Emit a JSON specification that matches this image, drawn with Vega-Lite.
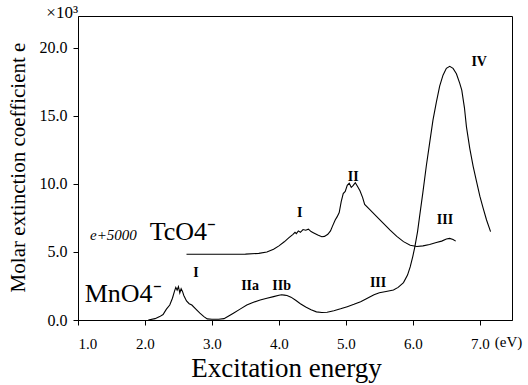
{
  "$schema": "https://vega.github.io/schema/vega-lite/v6.json",
  "width": 434,
  "height": 304,
  "autosize": "none",
  "padding": {"left": 78, "top": 16, "right": 16, "bottom": 65},
  "background": "white",
  "config": {
    "view": {"stroke": "black", "strokeWidth": 1},
    "font": "Liberation Serif",
    "text": {"font": "Liberation Serif"},
    "axis": {"grid": false, "domainColor": "black", "tickColor": "black", "labelColor": "black", "titleColor": "black", "labelFont": "Liberation Serif", "titleFont": "Liberation Serif", "titleFontWeight": "normal", "tickSize": 5}
  },
  "datasets": {
    "spectra": [
      {"s": "Mn", "x": 2.05, "y": 0}, {"s": "Mn", "x": 2.15, "y": 0.1}, {"s": "Mn", "x": 2.22, "y": 0.25}, {"s": "Mn", "x": 2.27, "y": 0.4},
      {"s": "Mn", "x": 2.32, "y": 0.8}, {"s": "Mn", "x": 2.37, "y": 1.1}, {"s": "Mn", "x": 2.41, "y": 1.6}, {"s": "Mn", "x": 2.44, "y": 2.1},
      {"s": "Mn", "x": 2.46, "y": 2.4}, {"s": "Mn", "x": 2.48, "y": 2.2}, {"s": "Mn", "x": 2.5, "y": 2.45}, {"s": "Mn", "x": 2.52, "y": 2.0},
      {"s": "Mn", "x": 2.54, "y": 2.3}, {"s": "Mn", "x": 2.56, "y": 2.1}, {"s": "Mn", "x": 2.58, "y": 1.8}, {"s": "Mn", "x": 2.6, "y": 1.6},
      {"s": "Mn", "x": 2.62, "y": 1.4}, {"s": "Mn", "x": 2.66, "y": 1.2}, {"s": "Mn", "x": 2.7, "y": 1.1}, {"s": "Mn", "x": 2.76, "y": 0.8},
      {"s": "Mn", "x": 2.82, "y": 0.5}, {"s": "Mn", "x": 2.88, "y": 0.25}, {"s": "Mn", "x": 2.93, "y": 0.08}, {"s": "Mn", "x": 3.0, "y": 0.05},
      {"s": "Mn", "x": 3.1, "y": 0.05}, {"s": "Mn", "x": 3.18, "y": 0.1}, {"s": "Mn", "x": 3.25, "y": 0.3}, {"s": "Mn", "x": 3.32, "y": 0.5},
      {"s": "Mn", "x": 3.42, "y": 0.8}, {"s": "Mn", "x": 3.52, "y": 1.1}, {"s": "Mn", "x": 3.62, "y": 1.3}, {"s": "Mn", "x": 3.72, "y": 1.47},
      {"s": "Mn", "x": 3.82, "y": 1.6}, {"s": "Mn", "x": 3.92, "y": 1.72}, {"s": "Mn", "x": 4.0, "y": 1.82}, {"s": "Mn", "x": 4.04, "y": 1.86},
      {"s": "Mn", "x": 4.08, "y": 1.83}, {"s": "Mn", "x": 4.12, "y": 1.8}, {"s": "Mn", "x": 4.18, "y": 1.68}, {"s": "Mn", "x": 4.25, "y": 1.45},
      {"s": "Mn", "x": 4.32, "y": 1.2}, {"s": "Mn", "x": 4.4, "y": 0.95}, {"s": "Mn", "x": 4.48, "y": 0.75}, {"s": "Mn", "x": 4.56, "y": 0.6},
      {"s": "Mn", "x": 4.64, "y": 0.55}, {"s": "Mn", "x": 4.72, "y": 0.57}, {"s": "Mn", "x": 4.82, "y": 0.68}, {"s": "Mn", "x": 4.92, "y": 0.82},
      {"s": "Mn", "x": 5.02, "y": 0.98}, {"s": "Mn", "x": 5.12, "y": 1.15}, {"s": "Mn", "x": 5.22, "y": 1.35}, {"s": "Mn", "x": 5.32, "y": 1.6},
      {"s": "Mn", "x": 5.42, "y": 1.85}, {"s": "Mn", "x": 5.5, "y": 2.0}, {"s": "Mn", "x": 5.6, "y": 2.1}, {"s": "Mn", "x": 5.71, "y": 2.2},
      {"s": "Mn", "x": 5.78, "y": 2.4}, {"s": "Mn", "x": 5.86, "y": 2.75}, {"s": "Mn", "x": 5.92, "y": 3.3}, {"s": "Mn", "x": 5.96, "y": 3.9},
      {"s": "Mn", "x": 6.0, "y": 4.7}, {"s": "Mn", "x": 6.03, "y": 5.4}, {"s": "Mn", "x": 6.07, "y": 6.5}, {"s": "Mn", "x": 6.1, "y": 7.6},
      {"s": "Mn", "x": 6.15, "y": 9.4}, {"s": "Mn", "x": 6.2, "y": 11.3}, {"s": "Mn", "x": 6.25, "y": 13.0}, {"s": "Mn", "x": 6.3, "y": 14.7},
      {"s": "Mn", "x": 6.35, "y": 16.0}, {"s": "Mn", "x": 6.4, "y": 17.2}, {"s": "Mn", "x": 6.45, "y": 18.0}, {"s": "Mn", "x": 6.5, "y": 18.5},
      {"s": "Mn", "x": 6.55, "y": 18.65}, {"s": "Mn", "x": 6.6, "y": 18.5}, {"s": "Mn", "x": 6.65, "y": 18.1}, {"s": "Mn", "x": 6.7, "y": 17.4},
      {"s": "Mn", "x": 6.73, "y": 16.9}, {"s": "Mn", "x": 6.77, "y": 15.6}, {"s": "Mn", "x": 6.8, "y": 14.2}, {"s": "Mn", "x": 6.85, "y": 12.6},
      {"s": "Mn", "x": 6.9, "y": 11.3}, {"s": "Mn", "x": 6.95, "y": 10.2}, {"s": "Mn", "x": 7.0, "y": 9.1}, {"s": "Mn", "x": 7.05, "y": 8.2},
      {"s": "Mn", "x": 7.1, "y": 7.35}, {"s": "Mn", "x": 7.16, "y": 6.5},
      {"s": "Tc", "x": 2.62, "y": 4.83}, {"s": "Tc", "x": 3.0, "y": 4.83}, {"s": "Tc", "x": 3.5, "y": 4.84}, {"s": "Tc", "x": 3.7, "y": 4.9},
      {"s": "Tc", "x": 3.82, "y": 5.0}, {"s": "Tc", "x": 3.92, "y": 5.2}, {"s": "Tc", "x": 4.0, "y": 5.45}, {"s": "Tc", "x": 4.08, "y": 5.75},
      {"s": "Tc", "x": 4.15, "y": 6.05}, {"s": "Tc", "x": 4.21, "y": 6.3}, {"s": "Tc", "x": 4.24, "y": 6.45}, {"s": "Tc", "x": 4.26, "y": 6.35},
      {"s": "Tc", "x": 4.29, "y": 6.55}, {"s": "Tc", "x": 4.32, "y": 6.45}, {"s": "Tc", "x": 4.36, "y": 6.65}, {"s": "Tc", "x": 4.4, "y": 6.6},
      {"s": "Tc", "x": 4.44, "y": 6.68}, {"s": "Tc", "x": 4.48, "y": 6.5}, {"s": "Tc", "x": 4.52, "y": 6.4}, {"s": "Tc", "x": 4.58, "y": 6.25},
      {"s": "Tc", "x": 4.64, "y": 6.12}, {"s": "Tc", "x": 4.68, "y": 6.15}, {"s": "Tc", "x": 4.73, "y": 6.3}, {"s": "Tc", "x": 4.77, "y": 6.55},
      {"s": "Tc", "x": 4.8, "y": 6.9}, {"s": "Tc", "x": 4.84, "y": 7.35}, {"s": "Tc", "x": 4.87, "y": 7.6}, {"s": "Tc", "x": 4.9, "y": 7.9},
      {"s": "Tc", "x": 4.93, "y": 8.7}, {"s": "Tc", "x": 4.96, "y": 9.3}, {"s": "Tc", "x": 4.99, "y": 9.45}, {"s": "Tc", "x": 5.02, "y": 9.9},
      {"s": "Tc", "x": 5.05, "y": 10.05}, {"s": "Tc", "x": 5.08, "y": 9.75}, {"s": "Tc", "x": 5.11, "y": 9.9}, {"s": "Tc", "x": 5.14, "y": 10.1},
      {"s": "Tc", "x": 5.17, "y": 9.85}, {"s": "Tc", "x": 5.21, "y": 9.5}, {"s": "Tc", "x": 5.25, "y": 9.0}, {"s": "Tc", "x": 5.28, "y": 8.5},
      {"s": "Tc", "x": 5.35, "y": 8.15}, {"s": "Tc", "x": 5.46, "y": 7.6}, {"s": "Tc", "x": 5.56, "y": 7.1}, {"s": "Tc", "x": 5.66, "y": 6.6},
      {"s": "Tc", "x": 5.76, "y": 6.15}, {"s": "Tc", "x": 5.86, "y": 5.76}, {"s": "Tc", "x": 5.96, "y": 5.5}, {"s": "Tc", "x": 6.06, "y": 5.4},
      {"s": "Tc", "x": 6.15, "y": 5.45}, {"s": "Tc", "x": 6.25, "y": 5.55}, {"s": "Tc", "x": 6.35, "y": 5.7}, {"s": "Tc", "x": 6.43, "y": 5.8},
      {"s": "Tc", "x": 6.5, "y": 5.95}, {"s": "Tc", "x": 6.55, "y": 6.0}, {"s": "Tc", "x": 6.6, "y": 5.92}, {"s": "Tc", "x": 6.64, "y": 5.8}
    ],
    "bands": [
      {"x": 2.76, "y": 3.43, "t": "I"},
      {"x": 3.57, "y": 2.5, "t": "IIa"},
      {"x": 4.04, "y": 2.5, "t": "IIb"},
      {"x": 5.48, "y": 2.74, "t": "III"},
      {"x": 4.31, "y": 7.84, "t": "I"},
      {"x": 5.11, "y": 10.5, "t": "II"},
      {"x": 6.48, "y": 7.35, "t": "III"},
      {"x": 6.99, "y": 19.0, "t": "IV"}
    ],
    "species": [
      {"x": 1.1, "y": 1.32, "t": "MnO4⁻"},
      {"x": 2.07, "y": 5.88, "t": "TcO4⁻"}
    ],
    "notes": [
      {"x": 1.18, "y": 5.88, "t": "e+5000"}
    ]
  },
  "layer": [
    {
      "data": {"name": "spectra"},
      "mark": {"type": "line", "color": "black", "strokeWidth": 1.1},
      "encoding": {
        "x": {"field": "x", "type": "quantitative", "scale": {"domain": [1.0, 7.48], "nice": false, "zero": false},
          "axis": {"values": [1, 2, 3, 4, 5, 6, 7], "format": ".1f", "labelFont": "Liberation Serif", "labelFontSize": 15, "labelPadding": 11, "title": "Excitation energy", "titleFont": "Liberation Serif", "titleFontSize": 27, "titleX": 208, "titleY": 48, "titleBaseline": "middle"}},
        "y": {"field": "y", "type": "quantitative", "scale": {"domain": [0, 22.35], "nice": false},
          "axis": {"values": [0, 5, 10, 15, 20], "format": ".1f", "labelFont": "Liberation Serif", "labelFontSize": 16, "labelPadding": 6, "title": "Molar extinction coefficient e", "titleFont": "Liberation Serif", "titleFontSize": 21, "titleX": -60, "titleY": 151, "titleAngle": -90, "titleAlign": "center", "titleBaseline": "middle"}},
        "detail": {"field": "s", "type": "nominal"}
      }
    },
    {
      "data": {"name": "bands"},
      "mark": {"type": "text", "font": "Liberation Serif", "fontWeight": "bold", "fontSize": 14, "baseline": "middle", "align": "center", "color": "black"},
      "encoding": {
        "x": {"field": "x", "type": "quantitative"},
        "y": {"field": "y", "type": "quantitative"},
        "text": {"field": "t"}
      }
    },
    {
      "data": {"name": "species"},
      "mark": {"type": "text", "font": "Liberation Serif", "fontSize": 26, "baseline": "alphabetic", "align": "left", "color": "black"},
      "encoding": {
        "x": {"field": "x", "type": "quantitative"},
        "y": {"field": "y", "type": "quantitative"},
        "text": {"field": "t"}
      }
    },
    {
      "data": {"name": "notes"},
      "mark": {"type": "text", "font": "Liberation Serif", "fontStyle": "italic", "fontSize": 15, "baseline": "alphabetic", "align": "left", "color": "black"},
      "encoding": {
        "x": {"field": "x", "type": "quantitative"},
        "y": {"field": "y", "type": "quantitative"},
        "text": {"field": "t"}
      }
    },
    {
      "data": {"values": [{"x": 1.0, "y": 22.35, "t": "×10³"}]},
      "mark": {"type": "text", "font": "Liberation Serif", "fontSize": 17, "baseline": "middle", "align": "right", "dx": 0, "dy": -3, "color": "black"},
      "encoding": {
        "x": {"field": "x", "type": "quantitative"},
        "y": {"field": "y", "type": "quantitative"},
        "text": {"field": "t"}
      }
    },
    {
      "data": {"values": [{"x": 7.0, "y": 0, "t": "(eV)"}]},
      "mark": {"type": "text", "font": "Liberation Serif", "fontSize": 15, "baseline": "top", "align": "left", "dx": 15, "dy": 15, "color": "black"},
      "encoding": {
        "x": {"field": "x", "type": "quantitative"},
        "y": {"field": "y", "type": "quantitative"},
        "text": {"field": "t"}
      }
    }
  ]
}
